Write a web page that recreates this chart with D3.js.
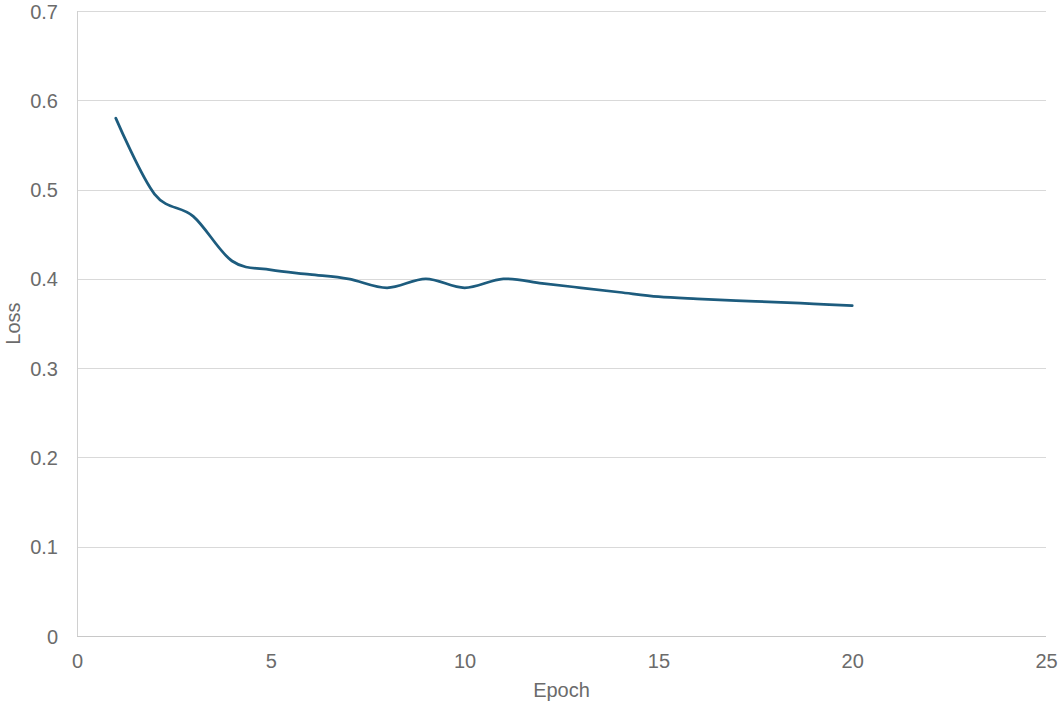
<!DOCTYPE html>
<html>
<head>
<meta charset="utf-8">
<script src="https://cdn.jsdelivr.net/npm/d3@7"></script>
<style>
  body { margin: 0; background: #fff; }
  svg text { font-family: "Liberation Sans", Arial, sans-serif; fill: #6b6b6b; }
</style>
</head>
<body>
<svg id="chart" width="1058" height="706"></svg>
<script>
// values
var epochs = [1, 2, 3, 4, 5, 6, 7, 8, 9, 10, 11, 12, 13, 14, 15, 16, 17, 18, 19, 20];
var loss = [0.58, 0.495, 0.47, 0.42, 0.41, 0.405, 0.40, 0.39, 0.40, 0.39,
            0.40, 0.395, 0.39, 0.385, 0.38, 0.3775, 0.3755, 0.374, 0.372, 0.37];
var xTicks = [0, 5, 10, 15, 20, 25];
var yTicks = [0, 0.1, 0.2, 0.3, 0.4, 0.5, 0.6, 0.7];

var margin = {top: 11, right: 12, bottom: 70, left: 77},
    width = 1058 - margin.left - margin.right,
    height = 706 - margin.top - margin.bottom;

var svg = d3.select("#chart");
var g = svg.append("g")
    .attr("transform", "translate(" + margin.left + "," + margin.top + ")");

var x = d3.scaleLinear().domain([0, 25]).range([0, width]);
var y = d3.scaleLinear().domain([0, 0.7]).range([height, 0]);

// horizontal gridlines
g.append("g")
    .selectAll("line")
    .data(yTicks.slice(1))
    .enter()
    .append("line")
    .attr("x1", 0)
    .attr("x2", width)
    .attr("y1", function(d) { return Math.round(y(d)) + 0.5; })
    .attr("y2", function(d) { return Math.round(y(d)) + 0.5; })
    .attr("stroke", "#d9d9d9")
    .attr("stroke-width", 1);

// axis lines
g.append("line")
    .attr("x1", 0.5).attr("x2", 0.5)
    .attr("y1", 0).attr("y2", height)
    .attr("stroke", "#d0d0d0");
g.append("line")
    .attr("x1", 0).attr("x2", width)
    .attr("y1", height + 0.5).attr("y2", height + 0.5)
    .attr("stroke", "#c8c8c8");

// tick labels
var xAxis = d3.axisBottom(x).tickValues(xTicks).tickSize(0).tickPadding(0)
    .tickFormat(d3.format("d"));
var xa = g.append("g")
    .attr("transform", "translate(0," + height + ")")
    .call(xAxis);
xa.select(".domain").remove();
xa.selectAll("text")
    .attr("dy", null)
    .attr("y", 32)
    .style("font-size", "20px")
    .style("fill", "#6b6b6b");

var yAxis = d3.axisLeft(y).tickValues(yTicks).tickSize(0).tickPadding(0)
    .tickFormat(function(d) { return d === 0 ? "0" : d3.format(".1f")(d); });
var ya = g.append("g").call(yAxis);
ya.select(".domain").remove();
ya.selectAll("text")
    .attr("x", -19)
    .attr("dy", "0.35em")
    .style("font-size", "20px")
    .style("fill", "#6b6b6b");

// axis titles
svg.append("text")
    .attr("x", margin.left + width / 2)
    .attr("y", 697)
    .attr("text-anchor", "middle")
    .style("font-size", "20px")
    .text("Epoch");

svg.append("text")
    .attr("transform", "translate(20," + (margin.top + height / 2) + ") rotate(-90)")
    .attr("text-anchor", "middle")
    .style("font-size", "20px")
    .text("Loss");

// smoothed loss line
var line = d3.line()
    .x(function(d, i) { return x(epochs[i]); })
    .y(function(d) { return y(d); })
    .curve(d3.curveCardinal.tension(0));

g.append("path")
    .datum(loss)
    .attr("fill", "none")
    .attr("stroke", "#1d5c7e")
    .attr("stroke-width", 2.75)
    .attr("stroke-linecap", "round")
    .attr("d", line);
</script>
</body>
</html>
